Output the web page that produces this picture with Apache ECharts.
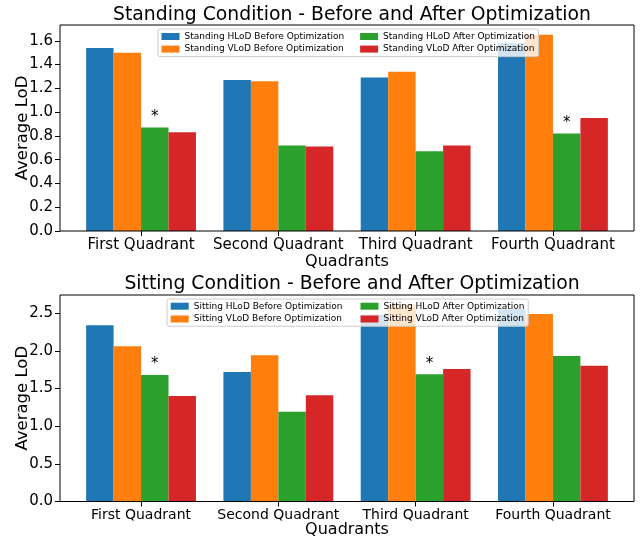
<!DOCTYPE html>
<html>
<head>
<meta charset="utf-8">
<script src="https://cdn.jsdelivr.net/npm/echarts@6/dist/echarts.min.js"></script>
<style>
  html, body { margin: 0; padding: 0; background: #fff; }
  #chart { width: 643px; height: 540px; }
</style>
</head>
<body>
<div id="chart"></div>
<script>
// Quadrant categories shared by both panels
const categories = ['First Quadrant', 'Second Quadrant', 'Third Quadrant', 'Fourth Quadrant'];

// Standing condition, average LoD per quadrant
const standingHLoDBefore = [1.54, 1.27, 1.29, 1.58];
const standingVLoDBefore = [1.50, 1.26, 1.34, 1.65];
const standingHLoDAfter  = [0.87, 0.72, 0.67, 0.82];
const standingVLoDAfter  = [0.83, 0.71, 0.72, 0.95];
// quadrants whose HLoD-after bar carries a significance star
const standingStars = [true, false, false, true];

// Sitting condition, average LoD per quadrant
const sittingHLoDBefore = [2.34, 1.72, 2.48, 2.55];
const sittingVLoDBefore = [2.06, 1.94, 2.61, 2.49];
const sittingHLoDAfter  = [1.68, 1.19, 1.69, 1.93];
const sittingVLoDAfter  = [1.40, 1.41, 1.76, 1.80];
const sittingStars = [true, false, true, false];

// y tick labels
const standingTicks = [0.0, 0.2, 0.4, 0.6, 0.8, 1.0, 1.2, 1.4, 1.6];
const sittingTicks  = [0.0, 0.5, 1.0, 1.5, 2.0, 2.5];

const colors = ['#1f77b4', '#ff7f0e', '#2ca02c', '#d62728'];
const FONT = 'DejaVu Sans';

// Panel geometry: the frame spans the full axes box, the bar band area sits
// inside it with a small margin on both sides (like matplotlib's x margins).
const FRAME_LEFT = 60, FRAME_RIGHT = 9;
const BAND_INSET = 12.4;
const panels = [
  { top: 25, height: 206, xLabelSize: 15, xLabelMargin: 7, xNameGap: 23 },
  { top: 295, height: 206.5, xLabelSize: 14, xLabelMargin: 7, xNameGap: 20 }
];

const chart = echarts.init(document.getElementById('chart'), null, { renderer: 'canvas' });

function items(values, stars) {
  return values.map((v, i) => {
    if (stars && stars[i]) {
      return { value: v, label: { show: true, formatter: '*', position: 'top', distance: 3,
        fontSize: 15, color: '#000', fontFamily: FONT } };
    }
    return v;
  });
}

function barSeries(name, values, color, gridIdx, stars) {
  return {
    type: 'bar', name: name, xAxisIndex: gridIdx, yAxisIndex: gridIdx,
    data: items(values, stars),
    itemStyle: { color: color },
    barGap: '0%', barCategoryGap: '20%',
    emphasis: { disabled: true }, animation: false
  };
}

function xAxisFor(gridIdx) {
  const p = panels[gridIdx];
  return {
    type: 'category', gridIndex: gridIdx, data: categories, boundaryGap: true,
    name: 'Quadrants', nameLocation: 'middle', nameGap: p.xNameGap,
    nameMoveOverlap: false,
    nameTextStyle: { fontSize: 16, color: '#000', fontFamily: FONT },
    axisLine: { show: false },
    axisTick: { show: true, length: 5, alignWithLabel: true, lineStyle: { color: '#000' } },
    axisLabel: { interval: 0, fontSize: p.xLabelSize, color: '#000', fontFamily: FONT, margin: p.xLabelMargin },
    splitLine: { show: false }
  };
}

function yAxisFor(gridIdx, ticks, maxVal) {
  return {
    type: 'value', gridIndex: gridIdx, min: 0, max: +(maxVal * 1.05).toFixed(4),
    offset: BAND_INSET,
    name: 'Average LoD', nameLocation: 'middle', nameGap: 29,
    nameMoveOverlap: false,
    nameTextStyle: { fontSize: 16.5, color: '#000', fontFamily: FONT },
    axisLine: { show: false },
    axisTick: { show: true, length: 5, customValues: ticks, lineStyle: { color: '#000' } },
    axisLabel: { customValues: ticks, formatter: v => v.toFixed(1),
      fontSize: 15, color: '#000', fontFamily: FONT, margin: 7 },
    splitLine: { show: false }
  };
}

function legendFor(prefix, left, top, colWidth, padding, gap) {
  const names = [prefix + ' HLoD Before Optimization', prefix + ' VLoD Before Optimization',
                 prefix + ' HLoD After Optimization', prefix + ' VLoD After Optimization'];
  return {
    orient: 'vertical', left: left, top: top, height: 30, z: 10,
    padding: padding, itemGap: gap, itemWidth: 18, itemHeight: 7, icon: 'rect',
    backgroundColor: 'rgba(255,255,255,0.8)', borderColor: '#cccccc', borderWidth: 1, borderRadius: 2,
    textStyle: { fontSize: 9, color: '#000', fontFamily: FONT, lineHeight: 10 },
    data: names.map((n, i) => i < 2 ? { name: n, textStyle: { width: colWidth } } : { name: n })
  };
}

const standingMax = Math.max(...standingHLoDBefore, ...standingVLoDBefore, ...standingHLoDAfter, ...standingVLoDAfter);
const sittingMax = Math.max(...sittingHLoDBefore, ...sittingVLoDBefore, ...sittingHLoDAfter, ...sittingVLoDAfter);

const titleStyle = { fontSize: 18.8, fontWeight: 'normal', color: '#000', fontFamily: FONT };

function gridBox(panel, inset, extra) {
  return Object.assign({
    left: FRAME_LEFT + inset, right: FRAME_RIGHT + inset, top: panel.top, height: panel.height,
    outerBoundsMode: 'none', containLabel: false
  }, extra || {});
}

chart.setOption({
  backgroundColor: '#fff',
  animation: false,
  title: [
    { text: 'Standing Condition - Before and After Optimization', left: 347, textAlign: 'center', top: 1,
      textStyle: titleStyle },
    { text: 'Sitting Condition - Before and After Optimization', left: 347, textAlign: 'center', top: 270,
      textStyle: titleStyle }
  ],
  legend: [
    legendFor('Standing', 158, 29, 173, [2.5, 3.5], 2.6),
    legendFor('Sitting', 167, 299, 164, [2.2, 3.7], 2.8)
  ],
  grid: [
    // bar band areas
    gridBox(panels[0], BAND_INSET),
    gridBox(panels[1], BAND_INSET),
    // axes frames
    gridBox(panels[0], 0, { show: true, borderColor: '#000', borderWidth: 1, backgroundColor: 'transparent', z: 3 }),
    gridBox(panels[1], 0, { show: true, borderColor: '#000', borderWidth: 1, backgroundColor: 'transparent', z: 3 })
  ],
  xAxis: [xAxisFor(0), xAxisFor(1)],
  yAxis: [yAxisFor(0, standingTicks, standingMax), yAxisFor(1, sittingTicks, sittingMax)],
  series: [
    barSeries('Standing HLoD Before Optimization', standingHLoDBefore, colors[0], 0),
    barSeries('Standing VLoD Before Optimization', standingVLoDBefore, colors[1], 0),
    barSeries('Standing HLoD After Optimization', standingHLoDAfter, colors[2], 0, standingStars),
    barSeries('Standing VLoD After Optimization', standingVLoDAfter, colors[3], 0),
    barSeries('Sitting HLoD Before Optimization', sittingHLoDBefore, colors[0], 1),
    barSeries('Sitting VLoD Before Optimization', sittingVLoDBefore, colors[1], 1),
    barSeries('Sitting HLoD After Optimization', sittingHLoDAfter, colors[2], 1, sittingStars),
    barSeries('Sitting VLoD After Optimization', sittingVLoDAfter, colors[3], 1)
  ]
});
</script>
</body>
</html>
